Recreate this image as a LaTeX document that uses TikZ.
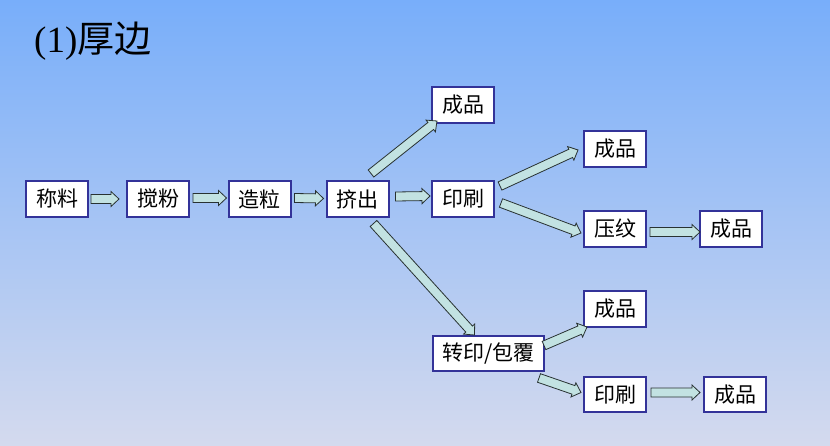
\documentclass[tikz,border=0pt]{standalone}
\usepackage{fontspec}
\setmainfont{Liberation Serif}
\newfontfamily\cjk{Noto Sans CJK SC}
\usetikzlibrary{calc}
\definecolor{boxblue}{RGB}{51,51,153}
\definecolor{arrfill}{RGB}{194,226,226}
\definecolor{arrline}{RGB}{40,50,50}
\definecolor{bgtop}{RGB}{120,174,250}
\definecolor{bgbot}{RGB}{212,218,238}
\tikzset{
  box/.style={draw=boxblue, line width=2pt, fill=white, minimum width=62pt, minimum height=36pt, inner sep=0pt, font=\cjk\fontsize{21}{23}\selectfont},
  arrowshape/.style={fill=arrfill, draw=arrline, line width=0.8pt, line join=miter},
}
% block arrow: #1 anchor, #2 offset, #3 anchor, #4 offset
\newcommand\barrow[4]{%
  \coordinate (ba-s) at ($(#1)+(#2)$);
  \coordinate (ba-e) at ($(#3)+(#4)$);
  \filldraw[arrowshape]
    ($(ba-s)!4.5pt!90:(ba-e)$) --
    ($(ba-e)!8pt!(ba-s)!4.5pt!90:(ba-e)$) --
    ($(ba-e)!8pt!(ba-s)!7.5pt!90:(ba-e)$) --
    (ba-e) --
    ($(ba-e)!8pt!(ba-s)!7.5pt!-90:(ba-e)$) --
    ($(ba-e)!8pt!(ba-s)!4.5pt!-90:(ba-e)$) --
    ($(ba-s)!4.5pt!-90:(ba-e)$) -- cycle;
}
\begin{document}
\begin{tikzpicture}[x=1pt,y=-1pt]
\useasboundingbox (0,0) rectangle (830,446);
\shade[top color=bgtop, bottom color=bgbot] (0,0) rectangle (830,446);
\node[anchor=west, inner sep=0pt, font=\fontsize{37}{40}\selectfont] (title) at (34,41) {(1)\cjk 厚边};

\node[box] (cl) at (57,199) {称料};
\node[box] (jf) at (158,199) {搅粉};
\node[box] (zl) at (259.5,199) {造粒};
\node[box] (jc) at (357.5,199.5) {挤出};
\node[box] (cp1) at (463,105) {成品};
\node[box] (ys) at (463,199) {印刷};
\node[box] (cp2) at (615,149) {成品};
\node[box] (yw) at (615,229) {压纹};
\node[box] (cp3) at (731,229) {成品};
\node[box, minimum width=111pt, minimum height=35pt] (zy) at (488.5,353.5) {转印/包覆};
\node[box] (cp4) at (615,309) {成品};
\node[box, minimum height=35pt] (ys2) at (615,394.5) {印刷};
\node[box, minimum height=35pt] (cp5) at (735,394.5) {成品};

\barrow{cl.east}{2,0}{jf.west}{-7,0}
\barrow{jf.east}{3,-1}{zl.west}{-1,-1}
\barrow{zl.east}{3,-1}{jc.west}{-2,-1}
\barrow{jc.east}{6,-3}{ys.west}{-1,-3}
\barrow{jc.north}{13.5,-7}{cp1.south west}{6,-3}
\barrow{ys.east}{5,-13}{cp2.west}{-5,1}
\barrow{ys.east}{6,4}{yw.west}{-2,4}
\barrow{jc.south}{16,5}{zy.north}{-14,0}
\barrow{yw.east}{3,3}{cp3.west}{1,3}
\barrow{zy.east}{-1,-8}{cp4.south west}{4,-1}
\barrow{zy.south east}{-6,6}{ys2.west}{-2,-2}
\barrow{ys2.east}{4,-2}{cp5.west}{-3,-2}
\end{tikzpicture}
\end{document}
